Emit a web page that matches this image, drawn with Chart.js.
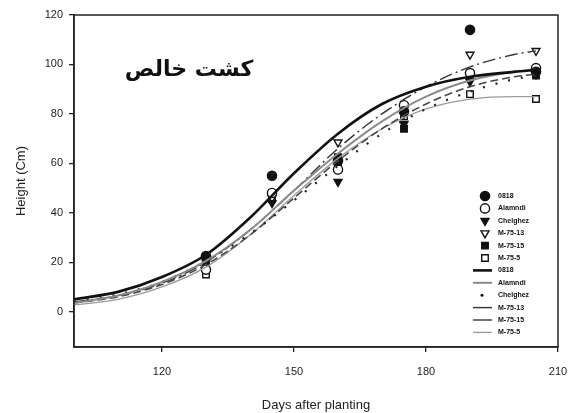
<!DOCTYPE html>
<html>
<head>
<meta charset="utf-8">
<script src="https://cdn.jsdelivr.net/npm/chart.js@4"></script>
<style>
  html, body { margin: 0; padding: 0; background: #fff; }
  #wrap { width: 570px; height: 413px; }
</style>
</head>
<body>
<div id="wrap"><canvas id="chart" width="570" height="413"></canvas></div>
<script>
// Observed plant heights (Cm) at sampling dates
const obsDays = [130, 145, 160, 175, 190, 205];
const obs0818 = [22.5, 55, 61, 81, 114, 97];
const obsAlamndi = [17, 48, 57.5, 83.5, 96.5, 98.5];
const obsChelghez = [20, 44, 52.5, 76, 93, 96];
const obsM7513 = [21, 46, 68.5, 80, 104, 105.5];
const obsM7515 = [19.5, 47, 62.5, 74, 95, 95.5];
const obsM755 = [15, 45.5, 60, 79, 88, 86];

// Fitted curves
const curveDays = [100, 110, 120, 130, 140, 150, 160, 170, 180, 190, 200, 205];
const fit0818 = [5, 8, 14, 23, 38, 56, 72, 84, 91, 95, 97, 97.8];
const fitAlamndi = [3.5, 6.5, 12, 20.5, 33, 49, 64, 77, 87, 93.5, 97, 98];
const fitChelghez = [4, 7, 12, 20.5, 31.5, 45, 59, 72, 82, 89, 94, 95.5];
const fitM7513 = [4, 6.5, 11.5, 20, 33, 49, 66, 80, 91, 99, 104, 105.5];
const fitM7515 = [3.5, 6, 11, 19, 31, 46, 61, 74, 84, 91, 95, 96];
const fitM755 = [2.7, 5, 10, 18, 31, 47, 62, 74, 82, 86, 87, 87];

const varieties = ["0818", "Alamndi", "Chelghez", "M-75-13", "M-75-15", "M-75-5"];
const xTicks = [120, 150, 180, 210];
const yTicks = [0, 20, 40, 60, 80, 100, 120];
const titleText = "کشت خالص";

const toXY = (xs, ys) => xs.map((x, i) => ({ x: x, y: ys[i] }));

// marker styles
const pointSets = [
  { name: varieties[0], data: obs0818, style: "circle", rot: 0, fill: "#111" },
  { name: varieties[1], data: obsAlamndi, style: "circle", rot: 0, fill: "#fff" },
  { name: varieties[2], data: obsChelghez, style: "triangle", rot: 180, fill: "#111" },
  { name: varieties[3], data: obsM7513, style: "triangle", rot: 180, fill: "#fff" },
  { name: varieties[4], data: obsM7515, style: "rect", rot: 0, fill: "#111" },
  { name: varieties[5], data: obsM755, style: "rect", rot: 0, fill: "#fff" }
];

// line styles
const lineSets = [
  { name: varieties[0], data: fit0818, color: "#111", width: 2.6, dash: [] },
  { name: varieties[1], data: fitAlamndi, color: "#8a8a8a", width: 2, dash: [] },
  { name: varieties[2], data: fitChelghez, color: "#222", width: 2.2, dash: [2, 11] },
  { name: varieties[3], data: fitM7513, color: "#333", width: 1.4, dash: [13, 4, 2, 4] },
  { name: varieties[4], data: fitM7515, color: "#444", width: 1.5, dash: [8, 4] },
  { name: varieties[5], data: fitM755, color: "#9a9a9a", width: 1.3, dash: [] }
];

const datasets = [];
lineSets.forEach(s => datasets.push({
  type: "line",
  label: s.name + " fit",
  data: toXY(curveDays, s.data),
  borderColor: s.color,
  borderWidth: s.width,
  borderDash: s.dash,
  pointRadius: 0,
  cubicInterpolationMode: "monotone",
  fill: false
}));
pointSets.forEach(s => datasets.push({
  type: "scatter",
  label: s.name,
  data: toXY(obsDays, s.data),
  pointStyle: s.style,
  rotation: s.rot,
  pointRadius: 4.6,
  pointBackgroundColor: s.fill,
  pointBorderColor: "#111",
  pointBorderWidth: 1.4
}));

// frame around plot area
const framePlugin = {
  id: "frame",
  afterDatasetsDraw(chart) {
    const a = chart.chartArea, ctx = chart.ctx;
    ctx.save();
    ctx.strokeStyle = "#222";
    ctx.lineWidth = 1.5;
    ctx.strokeRect(a.left, a.top, a.right - a.left, a.bottom - a.top);
    ctx.restore();
  }
};

// Persian title and legend inside plot
const notesPlugin = {
  id: "notes",
  afterDraw(chart) {
    const ctx = chart.ctx;
    ctx.save();
    ctx.fillStyle = "#111";
    ctx.font = "bold 22px 'DejaVu Sans'";
    ctx.textAlign = "center";
    ctx.textBaseline = "alphabetic";
    ctx.fillText(titleText, 189, 76);

    ctx.font = "bold 7px 'Liberation Sans'";
    ctx.textAlign = "left";
    ctx.textBaseline = "middle";
    let y = 196;
    const step = 12.4;
    pointSets.forEach(s => {
      ctx.fillStyle = s.fill;
      ctx.strokeStyle = "#111";
      ctx.lineWidth = 1.4;
      Chart.helpers.drawPoint(ctx, { pointStyle: s.style, rotation: s.rot, radius: 4.6, borderWidth: 1.4 }, 485, y);
      ctx.fillStyle = "#111";
      ctx.fillText(s.name, 498, y);
      y += step;
    });
    lineSets.forEach(s => {
      ctx.save();
      if (s.name === "Chelghez") {
        ctx.fillStyle = "#111";
        ctx.beginPath();
        ctx.arc(482, y, 1.5, 0, Math.PI * 2);
        ctx.fill();
      } else {
        ctx.strokeStyle = s.color;
        ctx.lineWidth = s.width;
        ctx.beginPath();
        ctx.moveTo(473, y);
        ctx.lineTo(492, y);
        ctx.stroke();
      }
      ctx.restore();
      ctx.fillStyle = "#111";
      ctx.fillText(s.name, 498, y);
      y += step;
    });
    ctx.restore();
  }
};

new Chart(document.getElementById("chart"), {
  data: { datasets: datasets },
  options: {
    responsive: false,
    animation: false,
    layout: { padding: { top: 15, right: 0, left: 0, bottom: 0 } },
    plugins: { legend: { display: false }, tooltip: { enabled: false } },
    scales: {
      x: {
        type: "linear",
        min: 100,
        max: 210,
        afterBuildTicks: s => { s.ticks = xTicks.map(v => ({ value: v })); },
        afterFit: s => { s.height = 66; s.paddingRight = 12; s.paddingLeft = 0; },
        grid: { drawOnChartArea: false, tickLength: 5, color: "#222", lineWidth: 1.3 },
        border: { color: "#222", width: 1.5 },
        ticks: { color: "#222", font: { family: "Liberation Sans", size: 11 }, padding: 13 },
        title: { display: true, text: "Days after planting", color: "#222", font: { family: "Liberation Sans", size: 13 }, padding: 0 }
      },
      y: {
        min: -14.3,
        max: 120,
        afterBuildTicks: s => { s.ticks = yTicks.map(v => ({ value: v })); },
        afterFit: s => { s.width = 74; },
        grid: { drawOnChartArea: false, tickLength: 5, color: "#222", lineWidth: 1.3 },
        border: { color: "#222", width: 1.5 },
        ticks: { color: "#222", font: { family: "Liberation Sans", size: 11 }, padding: 6 },
        title: { display: true, text: "Height (Cm)", color: "#222", font: { family: "Liberation Sans", size: 13 }, padding: { top: 14, bottom: 0 } }
      }
    }
  },
  plugins: [framePlugin, notesPlugin]
});
</script>
</body>
</html>
